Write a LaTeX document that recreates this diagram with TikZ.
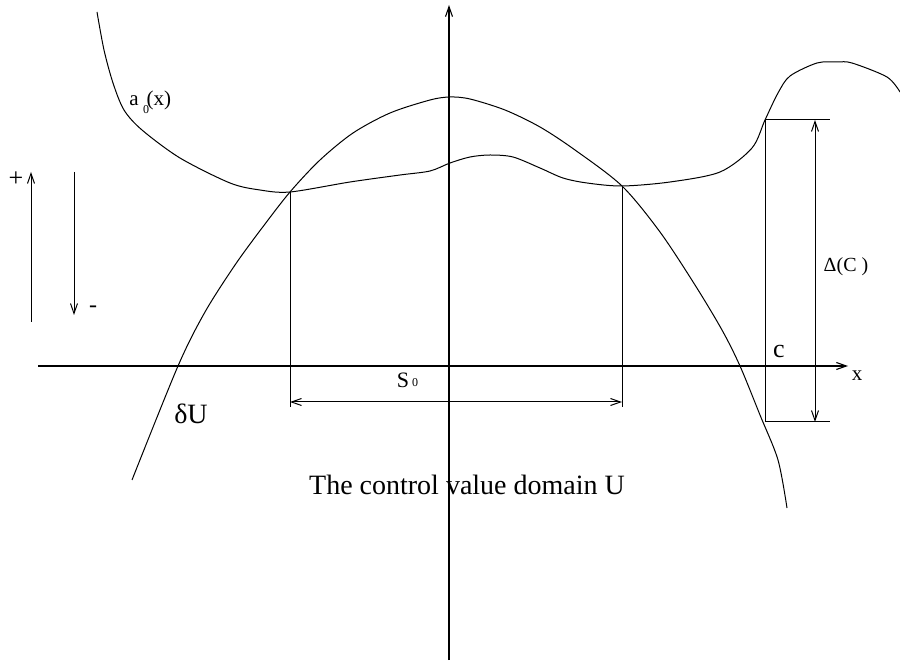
\documentclass[tikz,border=0pt]{standalone}
\usepackage{fontspec}
\setmainfont{Liberation Serif}
\usetikzlibrary{arrows.meta}

\begin{document}
\begin{tikzpicture}[
  x=0.5pt, y=-0.5pt,
  >={Straight Barb[length=5pt, width=3.5pt]},
  ln/.style={black, line width=0.5pt},
  axis/.style={->, black, line width=0.55pt},
  dim/.style={<->, black, line width=0.5pt},
  lbl/.style={inner sep=0pt, font=\fontsize{14}{16}\selectfont},
  smalllbl/.style={inner sep=0pt, font=\fontsize{10.5}{12}\selectfont},
  sublbl/.style={inner sep=0pt, font=\fontsize{6}{7}\selectfont},
]

% ══════════════════════════════════════════════════════
% Canvas
% ══════════════════════════════════════════════════════
\useasboundingbox (0,0) rectangle (900,662);

% ══════════════════════════════════════════════════════
% Axes
% ══════════════════════════════════════════════════════
\coordinate (xstart) at (38,366);
\coordinate (xend)   at (848,366);
\coordinate (ystart) at (449,660);
\coordinate (yend)   at (449,5);

\draw[axis] (xstart) -- (xend);
\draw[axis] (ystart) -- (yend);
\node[smalllbl] (xlabel) at (857,376) {x};

% ══════════════════════════════════════════════════════
% Curve a_0(x)
% ══════════════════════════════════════════════════════
\draw[ln] plot[smooth, tension=0.5] coordinates {
  (97,12) (104,50) (113,83) (124,110) (142,130) (180,158) (230,183)
  (260,190) (290,192) (350,182) (400,175) (430,171) (450,163)
  (470,157) (490,155) (513,157) (540,168) (563,178) (587,183)
  (622,186) (670,182) (720,172) (752,148) (765,120) (778,93)
  (790,76) (817,63) (837,62) (852,63) (887,77) (900,92)};

\node[smalllbl, anchor=base west] (aname) at (129,106) {a\kern4pt(x)};
\node[sublbl] (asub) at (146,110) {0};

% ══════════════════════════════════════════════════════
% Boundary curve (delta U)
% ══════════════════════════════════════════════════════
\draw[ln] plot[smooth, tension=0.5] coordinates {
  (132,480) (178,366) (205,312) (235,265) (262,228) (290,192)
  (320,160) (353,133) (390,113) (430,100) (450,97) (470,99)
  (505,110) (540,127) (575,150) (622,186) (660,232) (695,285)
  (722,330) (740,366) (760,415) (778,460) (787,508)};

\node[lbl] (dU) at (191,414) {δU};

% ══════════════════════════════════════════════════════
% Interval S_0 between the crossings
% ══════════════════════════════════════════════════════
\coordinate (lcross) at (290,192);
\coordinate (rcross) at (622,186);
\coordinate (lfoot)  at (290,407);
\coordinate (rfoot)  at (622,407);
\coordinate (sL) at (290,402);
\coordinate (sR) at (622,402);

\draw[ln] (lcross) -- (lfoot);
\draw[ln] (rcross) -- (rfoot);
\draw[dim] (sL) -- (sR);

\node[inner sep=0pt, font=\fontsize{11}{13}\selectfont, anchor=base]
  (sname) at (403,388) {S};
\node[sublbl, anchor=base] (ssub) at (415,387) {0};

% ══════════════════════════════════════════════════════
% Jump Delta(C) at c
% ══════════════════════════════════════════════════════
\coordinate (ctop)  at (765,120);
\coordinate (cbot)  at (765,422);
\coordinate (ctopR) at (830,120);
\coordinate (cbotR) at (830,422);
\coordinate (dtop)  at (815,120);
\coordinate (dbot)  at (815,422);

\draw[ln] (ctop) -- (cbot);
\draw[ln] (ctop) -- (ctopR);
\draw[ln] (cbot) -- (cbotR);
\draw[dim] (dbot) -- (dtop);

\node[inner sep=0pt, font=\fontsize{10}{12}\selectfont] (dC) at (846,267) {Δ(C )};
\node[inner sep=0pt, font=\fontsize{13}{15}\selectfont, anchor=base]
  (cname) at (779,358) {c};

% ══════════════════════════════════════════════════════
% Sign arrows on the left
% ══════════════════════════════════════════════════════
\coordinate (upfrom) at (31,322);
\coordinate (upto)   at (31,172);
\coordinate (dnfrom) at (74,172);
\coordinate (dnto)   at (74,315);

\draw[->, ln] (upfrom) -- (upto);
\draw[->, ln] (dnfrom) -- (dnto);
\node[inner sep=0pt, font=\fontsize{13}{15}\selectfont] (plus) at (16,179) {+};
\node[inner sep=0pt, font=\fontsize{12}{14}\selectfont] (minus) at (93,309) {-};

% ══════════════════════════════════════════════════════
% Caption inside the domain
% ══════════════════════════════════════════════════════
\node[lbl, anchor=base] (cap) at (467,495) {The control value domain U};

\end{tikzpicture}
\end{document}
